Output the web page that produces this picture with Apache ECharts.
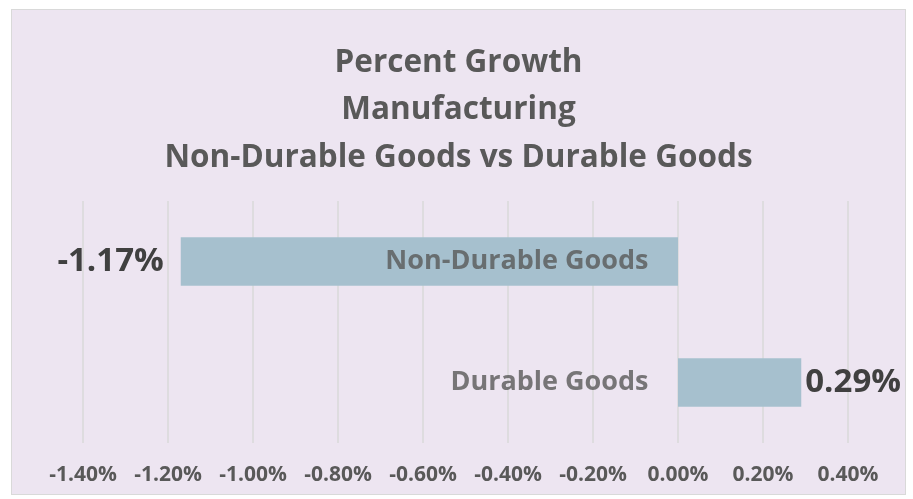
<!DOCTYPE html>
<html>
<head>
<meta charset="utf-8">
<script src="https://cdn.jsdelivr.net/npm/echarts@6/dist/echarts.min.js"></script>
<style>
  html, body { margin: 0; padding: 0; background: #fff; }
  #wrap { position: absolute; left: 11px; top: 9px; width: 895px; height: 486px;
          background: #ede5f1; border: 1px solid #d9d9d9; box-sizing: border-box; }
  #chart { width: 100%; height: 100%; }
</style>
</head>
<body>
<div id="wrap"><div id="chart"></div></div>
<script>
// 数据
const categories = ['Durable Goods', 'Non-Durable Goods']
const growth = [0.29, -1.17]
const tickMin = -1.4
const tickMax = 0.4
const tickStep = 0.2

const FONT = '"Open Sans", sans-serif'

let mycharts = echarts.init(document.getElementById('chart'))
mycharts.setOption({
    animation: false,
    title: {
        text: 'Percent Growth\nManufacturing\nNon-Durable Goods vs Durable Goods',
        left: 'center',
        top: 24,
        textStyle: {
            fontFamily: FONT,
            fontSize: 31.5,
            fontWeight: 'bold',
            color: '#595959',
            lineHeight: 47.5
        }
    },
    grid: {
        left: 71,
        right: 57,
        top: 191,
        bottom: 51,
        containLabel: false,
        outerBoundsMode: 'none'
    },
    xAxis: {
        type: 'value',
        min: tickMin,
        max: tickMax,
        interval: tickStep,
        axisLine: { show: false },
        axisTick: { show: false },
        splitLine: { show: true, lineStyle: { color: '#d9d9d9', width: 1.5 } },
        axisLabel: {
            margin: 22,
            fontFamily: FONT,
            fontSize: 21,
            fontWeight: 'bold',
            color: '#595959',
            formatter: v => v.toFixed(2) + '%'
        }
    },
    yAxis: {
        type: 'category',
        data: categories,
        axisLine: { show: false },
        axisTick: { show: false },
        axisLabel: { show: false }
    },
    series: [
        {
            type: 'bar',
            barWidth: '40%',
            itemStyle: { color: '#a6c0ce' },
            data: growth.map(v => ({
                value: v,
                label: {
                    show: true,
                    position: v < 0 ? 'left' : 'right',
                    distance: v < 0 ? 17 : 4,
                    fontFamily: FONT,
                    fontSize: 33,
                    fontWeight: 'bold',
                    color: '#404040',
                    formatter: p => p.value.toFixed(2) + '%'
                }
            }))
        },
        {
            // 类目名称放在0轴左侧
            type: 'scatter',
            symbolSize: 1,
            silent: true,
            itemStyle: { color: 'transparent' },
            label: {
                show: true,
                position: 'left',
                distance: 29,
                fontFamily: FONT,
                fontSize: 27,
                fontWeight: 'bold',
                color: '#595959',
                formatter: p => p.value[1]
            },
            data: categories.map(c => [0, c])
        }
    ]
})
</script>
</body>
</html>
